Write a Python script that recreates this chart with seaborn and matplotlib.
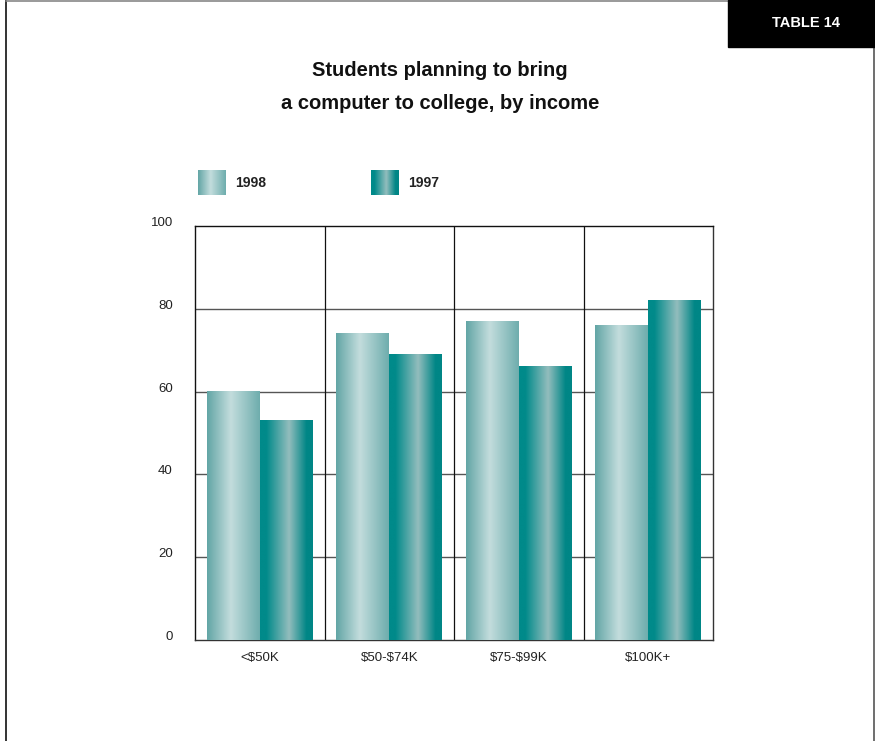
import numpy as np
import pandas as pd
import matplotlib
matplotlib.use("Agg")
import matplotlib.pyplot as plt
from matplotlib.colors import LinearSegmentedColormap
from matplotlib.lines import Line2D
from matplotlib.patches import Rectangle
import seaborn as sns

# ---- data -------------------------------------------------------------
categories = ["<$50K", "$50-$74K", "$75-$99K", "$100K+"]
years = ["1998", "1997"]
pct_1998 = [60, 74, 77, 76]
pct_1997 = [53, 69, 66, 82]
y_ticks = [0, 20, 40, 60, 80, 100]

title = "Students planning to bring\na computer to college, by income"
badge = "TABLE 14"

df = pd.DataFrame({
    "income": categories * 2,
    "year": [years[0]] * len(categories) + [years[1]] * len(categories),
    "pct": pct_1998 + pct_1997,
})

# cylinder-like shading for each series
shades = {
    "1998": LinearSegmentedColormap.from_list(
        "s1998", [(0.0, "#62a5a5"), (0.45, "#c3dddd"), (1.0, "#6eadad")]),
    "1997": LinearSegmentedColormap.from_list(
        "s1997", [(0.0, "#008a8a"), (0.12, "#008a8a"), (0.55, "#93bdbd"),
                  (0.88, "#008686"), (1.0, "#008686")]),
}

sns.set_style("white")
plt.rcParams["font.family"] = ["Liberation Sans", "DejaVu Sans"]
plt.rcParams["text.parse_math"] = False  # dollar signs are literal

W, H = 875, 741
fig = plt.figure(figsize=(W / 100, H / 100), dpi=100)
ax = fig.add_axes([195 / W, 1 - 640 / H, 518 / W, 414 / H])

sns.barplot(data=df, x="income", y="pct", hue="year", hue_order=years,
            order=categories, width=0.815, dodge=True, legend=False,
            errorbar=None, ax=ax, linewidth=0, zorder=3)

grad = np.linspace(0, 1, 256).reshape(1, -1)
for container, yr in zip(ax.containers, years):
    for bar in container:
        x0, w, h = bar.get_x(), bar.get_width(), bar.get_height()
        bar.set_facecolor("none")
        ax.imshow(grad, extent=[x0, x0 + w, 0, h], aspect="auto",
                  cmap=shades[yr], zorder=3, interpolation="bilinear")

ax.set_xlim(-0.5, len(categories) - 0.5)
ax.set_ylim(0, 100)
ax.set_xlabel("")
ax.set_ylabel("")

# grid: horizontal at value ticks, vertical between categories
for v in y_ticks[1:-1]:
    ax.axhline(v, color="#555555", lw=1.0, zorder=1)
for b in np.arange(0.5, len(categories) - 0.5, 1.0):
    ax.axvline(b, color="#111111", lw=0.9, zorder=1)

for side, col in [("left", "#111111"), ("top", "#111111"),
                  ("right", "#333333"), ("bottom", "#333333")]:
    ax.spines[side].set_visible(True)
    ax.spines[side].set_color(col)
    ax.spines[side].set_linewidth(1.0)

ax.set_yticks(y_ticks)
ax.set_yticklabels([str(t) for t in y_ticks])
ax.tick_params(axis="y", length=0, pad=16, labelsize=9.5, labelcolor="#222222")
for lab in ax.get_yticklabels():
    lab.set_verticalalignment("baseline")
ax.tick_params(axis="x", length=0, pad=9, labelsize=9.5, labelcolor="#222222")

# title
fig.text(440 / W, 1 - 87 / H, title, ha="center", va="center",
         fontsize=14.5, fontweight="bold", color="#111111", linespacing=1.95)

# legend swatches with the same shading
lx = [198, 371]
for yr, x in zip(years, lx):
    sax = fig.add_axes([x / W, 1 - 195 / H, 28 / W, 25 / H])
    sax.imshow(grad, aspect="auto", cmap=shades[yr], interpolation="bilinear")
    sax.set_axis_off()
    fig.text((x + 37) / W, 1 - 183 / H, yr, ha="left", va="center",
             fontsize=10, fontweight="bold", color="#222222")

# badge in the top-right corner
fig.patches.append(Rectangle((728 / W, 1 - 47 / H), (W - 728) / W, 47 / H,
                             transform=fig.transFigure, color="black",
                             zorder=5))
fig.text(806 / W, 1 - 23 / H, badge, ha="center", va="center",
         fontsize=10.5, fontweight="bold", color="white", zorder=6)

# page frame
fig.lines.append(Line2D([6 / W, 6 / W], [0, 1], transform=fig.transFigure,
                        color="#111111", lw=1.2))
fig.lines.append(Line2D([6 / W, 1], [1 - 0.5 / H, 1 - 0.5 / H],
                        transform=fig.transFigure, color="#888888", lw=1.2))
fig.lines.append(Line2D([1 - 1 / W, 1 - 1 / W], [0, 1],
                        transform=fig.transFigure, color="#555555", lw=1.2))

fig.savefig("out.png", dpi=100)
